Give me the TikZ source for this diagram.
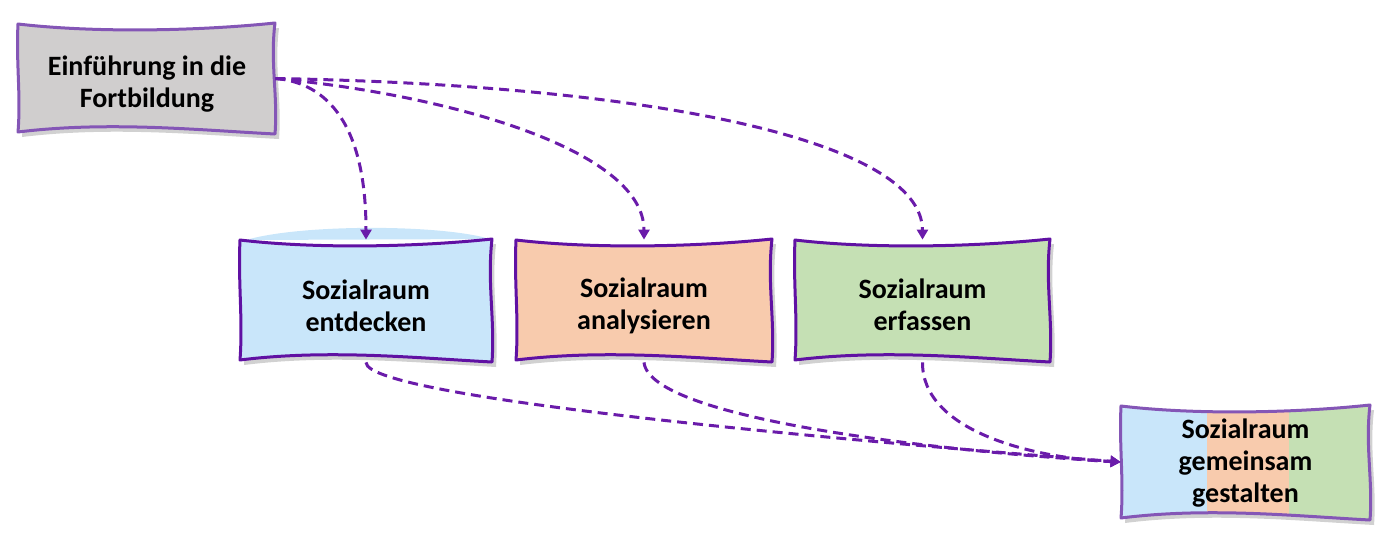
\documentclass[tikz,border=0pt]{standalone}
\usepackage{fontspec}
\setmainfont{Carlito}
\usetikzlibrary{calc,arrows.meta}
\definecolor{arrowc}{HTML}{6A1BAA}
\definecolor{edgeA}{HTML}{6011A3}
\definecolor{edgeB}{HTML}{8456B6}
\definecolor{fgray}{HTML}{D0CECE}
\definecolor{fblue}{HTML}{C9E6FA}
\definecolor{fpeach}{HTML}{F8CBAD}
\definecolor{fgreen}{HTML}{C5E0B4}
% wavy outline: x1 y1 x2 y2 (pixel coordinates, y downwards)
\def\wshape#1#2#3#4{(#1,#2) .. controls ({#1+0.3*(#3-#1)},{#2+9}) and ({#1+0.7*(#3-#1)},{#2+7}) .. (#3,{#2-1})
 .. controls ({#3-5},{#2+0.35*(#4-#2)}) and ({#3+3},{#2+0.65*(#4-#2)}) .. (#3,#4)
 .. controls ({#1+0.7*(#3-#1)},{#4-4}) and ({#1+0.35*(#3-#1)},{#4-13}) .. (#1,{#4-2})
 .. controls ({#1+3},{#2+0.65*(#4-#2)}) and ({#1-2},{#2+0.35*(#4-#2)}) .. cycle}
\newcommand\wbox[6]{%
  \fill[black,opacity=0.18,shift={(4,5)}] \wshape{#1}{#2}{#3}{#4};
  \draw[line width=1.5pt,draw=#6,fill=#5,line join=round] \wshape{#1}{#2}{#3}{#4};}
\tikzset{
  lbl/.style={align=center,font=\fontsize{14}{16}\selectfont\bfseries,text=black,inner sep=0pt},
  conn/.style={draw=arrowc,line width=1.5pt,dash pattern=on 5pt off 3pt,
    -{Triangle[length=5pt,width=5.5pt]}}
}
\begin{document}
\begin{tikzpicture}[x=0.5pt,y=-0.5pt]
\useasboundingbox (0,0) rectangle (1386,536);
% halo above first box
\fill[fblue] (246,240) .. controls (300,224) and (440,224) .. (490,239) -- cycle;
% boxes
\wbox{18}{24}{275}{134}{fgray}{edgeB}
\wbox{240}{240}{492}{362}{fblue}{edgeA}
\wbox{516}{240}{772}{362}{fpeach}{edgeA}
\wbox{795}{240}{1050}{362}{fgreen}{edgeA}
% striped box
\fill[black,opacity=0.18,shift={(4,5)}] \wshape{1121}{406}{1370}{520};
\begin{scope}
  \clip \wshape{1121}{406}{1370}{520};
  \fill[fblue] (1100,390) rectangle (1207,540);
  \fill[fpeach] (1207,390) rectangle (1289,540);
  \fill[fgreen] (1289,390) rectangle (1390,540);
\end{scope}
\draw[line width=1.5pt,draw=edgeB,line join=round] \wshape{1121}{406}{1370}{520};
% texts / nodes
\node[lbl,minimum width=128.5pt,minimum height=55pt] (intro) at (146.5,78.5) {};
\node[lbl] at (147,84) {Einführung in die\\Fortbildung};
\node[lbl,minimum width=126pt,minimum height=61pt] (ent) at (366,301) {};
\node[lbl] at (366,306) {Sozialraum\\entdecken};
\node[lbl,minimum width=128pt,minimum height=61pt] (ana) at (644,301) {};
\node[lbl] at (644,306) {Sozialraum\\analysieren};
\node[lbl,minimum width=127.5pt,minimum height=61pt] (erf) at (922.5,301) {};
\node[lbl] at (922.5,305) {Sozialraum\\erfassen};
\node[lbl,minimum width=124.5pt,minimum height=57pt] (gem) at (1245.5,462) {};
\node[lbl] at (1245.5,463) {Sozialraum\\gemeinsam\\gestalten};
% connectors
\draw[conn] (intro.east) .. controls (320,82) and (366,115) .. (ent.north);
\draw[conn] (intro.east) .. controls (450,95) and (644,150) .. (ana.north);
\draw[conn] (intro.east) .. controls (650,85) and (922,140) .. (erf.north);
\draw[conn] (ent.south) .. controls (366,400) and (900,445) .. (gem.west);
\draw[conn] (ana.south) .. controls (650,420) and (950,452) .. (gem.west);
\draw[conn] (erf.south) .. controls (922,430) and (1030,458) .. (gem.west);
\end{tikzpicture}
\end{document}
